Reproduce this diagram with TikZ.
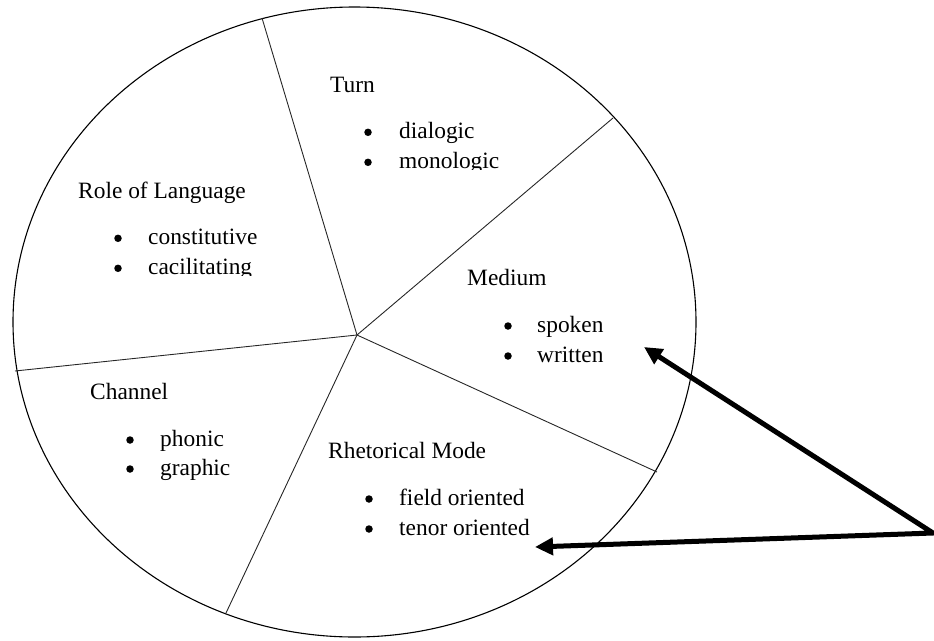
\documentclass[tikz,border=0pt]{standalone}
\usepackage{fontspec}
\setmainfont{Liberation Serif}
\usetikzlibrary{arrows.meta}
\begin{document}
\begin{tikzpicture}[x=1pt,y=-1pt,
  lbl/.style={anchor=base west,inner sep=0pt,font=\fontsize{23.4}{28}\selectfont},
  bul/.style={circle,fill=black,inner sep=0pt,minimum size=7.5pt,yshift=6pt},
  spoke/.style={draw=black!85,line width=0.9pt},
  rim/.style={draw=black,line width=1.1pt},
  pointer/.style={line width=5pt,line join=miter,
    {Triangle[length=18pt,width=17pt]}-{Triangle[length=18pt,width=17pt]}}
]
\useasboundingbox (0,0) rectangle (934,640);
% outer ellipse
\draw[rim] (354.5,322) ellipse [x radius=341.5, y radius=315];
% hub and spoke ends
\coordinate (hub) at (357,335);
\coordinate (sTop) at (262,18);
\coordinate (sUR) at (613,118);
\coordinate (sLR) at (657,472);
\coordinate (sBot) at (226,613);
\coordinate (sLeft) at (15,371);
\foreach \e in {sTop,sUR,sLR,sBot,sLeft}{\draw[spoke] (hub) -- (\e);}
% Turn
\node[lbl] (turn) at (330,92) {Turn};
\node[bul] (tb1) at (368,138.3) {};
\node[lbl] (t1) at (399,138.3) {dialogic};
\node[bul] (tb2) at (368,168.3) {};
\begin{scope}
\clip (0,0) rectangle (934,169.5);
\node[lbl] (t2) at (399,168.3) {monologic};
\end{scope}
% Role of Language
\node[lbl] (role) at (78,198) {Role of Language};
\node[bul] (rb1) at (118,244.3) {};
\node[lbl] (r1) at (148,244.3) {constitutive};
\node[bul] (rb2) at (118,274.3) {};
\begin{scope}
\clip (0,0) rectangle (934,275.5);
\node[lbl] (r2) at (148,274.3) {cacilitating};
\end{scope}
% Medium
\node[lbl] (medium) at (467,285) {Medium};
\node[bul] (mb1) at (508,332) {};
\node[lbl] (m1) at (537,332) {spoken};
\node[bul] (mb2) at (508,362) {};
\node[lbl] (m2) at (537,362) {written};
% Channel
\node[lbl] (channel) at (90,399) {Channel};
\node[bul] (cb1) at (130,446) {};
\node[lbl] (c1) at (160,446) {phonic};
\node[bul] (cb2) at (130,475) {};
\node[lbl] (c2) at (160,475) {graphic};
% Rhetorical Mode
\node[lbl] (rhet) at (328,458) {Rhetorical Mode};
\node[bul] (hb1) at (369,505) {};
\node[lbl] (h1) at (399,505) {field oriented};
\node[bul] (hb2) at (369,535) {};
\node[lbl] (h2) at (399,535) {tenor oriented};
% pointer arrows
\coordinate (apex) at (933,533);
\coordinate (tipA) at (644,347);
\coordinate (tipB) at (535,547);
\draw[pointer] (tipA) -- (apex) -- (tipB);
\end{tikzpicture}
\end{document}
